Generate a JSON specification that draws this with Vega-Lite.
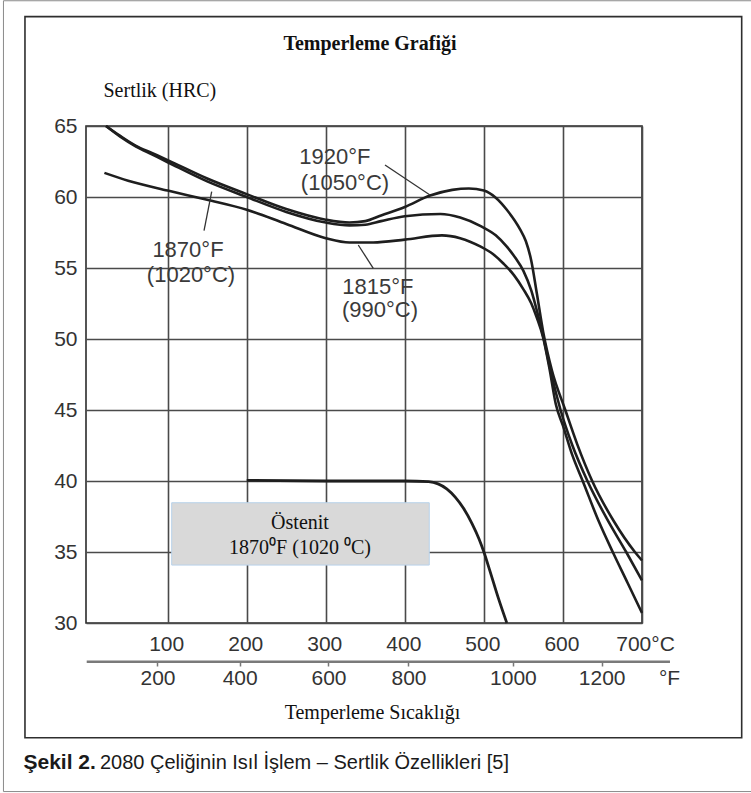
{
  "$schema": "https://vega.github.io/schema/vega-lite/v6.json",
  "width": 556,
  "height": 497,
  "autosize": {"type": "none"},
  "padding": {"left": 86, "top": 126, "right": 109, "bottom": 170},
  "background": "white",
  "config": {
    "view": {"stroke": "#2b2b2b", "strokeWidth": 1.6},
    "text": {"font": "Liberation Sans"}
  },
  "datasets": {
    "curves": [
      {"series": "1920°F", "C": 22, "HRC": 65.0},
      {"series": "1920°F", "C": 40, "HRC": 64.3},
      {"series": "1920°F", "C": 60, "HRC": 63.6},
      {"series": "1920°F", "C": 80, "HRC": 63.1},
      {"series": "1920°F", "C": 100, "HRC": 62.6},
      {"series": "1920°F", "C": 150, "HRC": 61.3},
      {"series": "1920°F", "C": 200, "HRC": 60.2},
      {"series": "1920°F", "C": 250, "HRC": 59.15},
      {"series": "1920°F", "C": 300, "HRC": 58.4},
      {"series": "1920°F", "C": 330, "HRC": 58.2},
      {"series": "1920°F", "C": 350, "HRC": 58.3},
      {"series": "1920°F", "C": 370, "HRC": 58.7},
      {"series": "1920°F", "C": 400, "HRC": 59.3},
      {"series": "1920°F", "C": 432, "HRC": 60.1},
      {"series": "1920°F", "C": 460, "HRC": 60.5},
      {"series": "1920°F", "C": 481, "HRC": 60.6},
      {"series": "1920°F", "C": 500, "HRC": 60.45},
      {"series": "1920°F", "C": 515, "HRC": 59.95},
      {"series": "1920°F", "C": 529, "HRC": 59.1},
      {"series": "1920°F", "C": 546, "HRC": 57.7},
      {"series": "1920°F", "C": 553, "HRC": 56.9},
      {"series": "1920°F", "C": 560, "HRC": 55.5},
      {"series": "1920°F", "C": 567, "HRC": 53.2},
      {"series": "1920°F", "C": 575, "HRC": 50.5},
      {"series": "1920°F", "C": 586, "HRC": 47.8},
      {"series": "1920°F", "C": 603, "HRC": 45.0},
      {"series": "1920°F", "C": 618, "HRC": 42.6},
      {"series": "1920°F", "C": 637, "HRC": 40.0},
      {"series": "1920°F", "C": 664, "HRC": 37.2},
      {"series": "1920°F", "C": 691, "HRC": 35.0},
      {"series": "1920°F", "C": 700, "HRC": 34.4},
      {"series": "1870°F", "C": 22, "HRC": 65.0},
      {"series": "1870°F", "C": 40, "HRC": 64.25},
      {"series": "1870°F", "C": 60, "HRC": 63.55},
      {"series": "1870°F", "C": 80, "HRC": 63.0},
      {"series": "1870°F", "C": 100, "HRC": 62.45},
      {"series": "1870°F", "C": 150, "HRC": 61.1},
      {"series": "1870°F", "C": 200, "HRC": 60.0},
      {"series": "1870°F", "C": 250, "HRC": 58.95},
      {"series": "1870°F", "C": 300, "HRC": 58.2},
      {"series": "1870°F", "C": 330, "HRC": 58.0},
      {"series": "1870°F", "C": 350, "HRC": 58.05},
      {"series": "1870°F", "C": 370, "HRC": 58.3},
      {"series": "1870°F", "C": 400, "HRC": 58.65},
      {"series": "1870°F", "C": 445, "HRC": 58.8},
      {"series": "1870°F", "C": 470, "HRC": 58.55},
      {"series": "1870°F", "C": 496, "HRC": 57.95},
      {"series": "1870°F", "C": 515, "HRC": 57.3},
      {"series": "1870°F", "C": 529, "HRC": 56.5},
      {"series": "1870°F", "C": 540, "HRC": 55.7},
      {"series": "1870°F", "C": 550, "HRC": 54.8},
      {"series": "1870°F", "C": 560, "HRC": 53.4},
      {"series": "1870°F", "C": 567, "HRC": 52.0},
      {"series": "1870°F", "C": 575, "HRC": 50.2},
      {"series": "1870°F", "C": 585, "HRC": 47.6},
      {"series": "1870°F", "C": 597, "HRC": 45.0},
      {"series": "1870°F", "C": 612, "HRC": 42.5},
      {"series": "1870°F", "C": 631, "HRC": 40.0},
      {"series": "1870°F", "C": 655, "HRC": 37.4},
      {"series": "1870°F", "C": 680, "HRC": 35.0},
      {"series": "1870°F", "C": 700, "HRC": 33.0},
      {"series": "1815°F", "C": 20, "HRC": 61.7},
      {"series": "1815°F", "C": 50, "HRC": 61.15},
      {"series": "1815°F", "C": 100, "HRC": 60.45},
      {"series": "1815°F", "C": 150, "HRC": 59.8},
      {"series": "1815°F", "C": 200, "HRC": 59.1},
      {"series": "1815°F", "C": 250, "HRC": 58.1},
      {"series": "1815°F", "C": 300, "HRC": 57.1},
      {"series": "1815°F", "C": 330, "HRC": 56.8},
      {"series": "1815°F", "C": 360, "HRC": 56.8},
      {"series": "1815°F", "C": 400, "HRC": 57.0},
      {"series": "1815°F", "C": 447, "HRC": 57.3},
      {"series": "1815°F", "C": 470, "HRC": 57.1},
      {"series": "1815°F", "C": 496, "HRC": 56.5},
      {"series": "1815°F", "C": 511, "HRC": 56.0},
      {"series": "1815°F", "C": 525, "HRC": 55.3},
      {"series": "1815°F", "C": 538, "HRC": 54.5},
      {"series": "1815°F", "C": 550, "HRC": 53.5},
      {"series": "1815°F", "C": 560, "HRC": 52.5},
      {"series": "1815°F", "C": 567, "HRC": 51.5},
      {"series": "1815°F", "C": 575, "HRC": 50.1},
      {"series": "1815°F", "C": 583, "HRC": 47.9},
      {"series": "1815°F", "C": 591, "HRC": 45.4},
      {"series": "1815°F", "C": 600, "HRC": 43.9},
      {"series": "1815°F", "C": 612, "HRC": 41.8},
      {"series": "1815°F", "C": 625, "HRC": 40.0},
      {"series": "1815°F", "C": 645, "HRC": 37.2},
      {"series": "1815°F", "C": 663, "HRC": 35.0},
      {"series": "1815°F", "C": 682, "HRC": 32.8},
      {"series": "1815°F", "C": 700, "HRC": 30.7}
    ],
    "austenite": [
      {"C": 200, "HRC": 40.05},
      {"C": 300, "HRC": 40.0},
      {"C": 400, "HRC": 40.0},
      {"C": 430, "HRC": 39.95},
      {"C": 442, "HRC": 39.8},
      {"C": 453, "HRC": 39.45},
      {"C": 464, "HRC": 38.85},
      {"C": 474, "HRC": 38.1},
      {"C": 485, "HRC": 37.0},
      {"C": 494, "HRC": 35.9},
      {"C": 500, "HRC": 35.0},
      {"C": 508, "HRC": 33.6},
      {"C": 518, "HRC": 31.8},
      {"C": 529, "HRC": 30.0}
    ],
    "leaders": [
      {"C1": 374.9, "H1": 62.25, "C2": 431.8, "H2": 60.14},
      {"C1": 146.0, "H1": 57.63, "C2": 155.7, "H2": 60.37},
      {"C1": 360.1, "H1": 54.98, "C2": 341.1, "H2": 56.62}
    ],
    "labels": [
      {"text": "1920°F", "C": 311.6, "HRC": 62.84},
      {"text": "(1050°C)", "C": 324.3, "HRC": 60.96},
      {"text": "1870°F", "C": 125.7, "HRC": 56.27},
      {"text": "(1020°C)", "C": 129.5, "HRC": 54.51},
      {"text": "1815°F", "C": 366.0, "HRC": 53.68},
      {"text": "(990°C)", "C": 368.6, "HRC": 52.04}
    ],
    "boxtext": [
      {"text": "Östenit", "C": 267.4, "HRC": 37.06},
      {"text": "1870⁰F (1020 ⁰C)", "C": 267.4, "HRC": 35.26}
    ]
  },
  "resolve": {"axis": {"x": "independent", "y": "independent"}},
  "layer": [
    {
      "data": {"values": [{}]},
      "mark": {"type": "rect", "fill": "transparent", "stroke": "#8a8a8a", "strokeWidth": 1, "clip": false},
      "encoding": {
        "x": {"datum": -107.7, "type": "quantitative", "scale": {"domain": [-3.3, 700], "nice": false}, "axis": null},
        "x2": {"datum": 841},
        "y": {"datum": 73.82, "type": "quantitative", "scale": {"domain": [30, 65], "nice": false, "zero": false}, "axis": null},
        "y2": {"datum": 18.13}
      }
    },
    {
      "data": {"values": [{}]},
      "mark": {"type": "rect", "fill": "transparent", "stroke": "#2e2e2e", "strokeWidth": 1.6, "clip": false},
      "encoding": {
        "x": {"datum": -80.5, "type": "quantitative", "scale": {"domain": [-3.3, 700], "nice": false}, "axis": null},
        "x2": {"datum": 826.1},
        "y": {"datum": 72.7, "type": "quantitative", "scale": {"domain": [30, 65], "nice": false, "zero": false}, "axis": null},
        "y2": {"datum": 21.92}
      }
    },
    {
      "data": {"name": "curves"},
      "mark": {"type": "line", "interpolate": "monotone", "color": "#1e1e1e", "strokeWidth": 2.6},
      "encoding": {
        "x": {
          "field": "C", "type": "quantitative",
          "scale": {"domain": [-3.3, 700], "nice": false},
          "axis": {
            "orient": "bottom",
            "values": [100, 200, 300, 400, 500, 600, 700],
            "labelExpr": "datum.value == 700 ? '700°C' : datum.label",
            "grid": true, "gridColor": "#4a4a4a", "gridWidth": 1.6,
            "domain": false, "ticks": false,
            "labelPadding": 10, "labelFlush": false, "labelOverlap": false,
            "labelFont": "Liberation Sans", "labelFontSize": 21, "labelColor": "#333333",
            "labelOffset": {"condition": {"test": "datum.value == 700", "value": 3}, "value": -1.5},
            "title": null
          }
        },
        "y": {
          "field": "HRC", "type": "quantitative",
          "scale": {"domain": [30, 65], "nice": false, "zero": false},
          "axis": {
            "values": [30, 35, 40, 45, 50, 55, 60, 65],
            "grid": true, "gridColor": "#4a4a4a", "gridWidth": 1.6,
            "domain": false, "ticks": false,
            "labelPadding": 9,
            "labelFont": "Liberation Sans", "labelFontSize": 21, "labelColor": "#333333",
            "title": "Sertlik (HRC)",
            "titleAngle": 0, "titleX": 17, "titleY": -36,
            "titleAlign": "left", "titleBaseline": "middle",
            "titleFont": "Liberation Serif", "titleFontSize": 20, "titleFontWeight": "normal", "titleColor": "#111111"
          }
        },
        "detail": {"field": "series"}
      }
    },
    {
      "data": {"name": "austenite"},
      "mark": {"type": "line", "interpolate": "monotone", "color": "#1e1e1e", "strokeWidth": 2.8},
      "encoding": {
        "x": {"field": "C", "type": "quantitative", "scale": {"domain": [-3.3, 700], "nice": false}, "axis": null},
        "y": {"field": "HRC", "type": "quantitative", "scale": {"domain": [30, 65], "nice": false, "zero": false}, "axis": null}
      }
    },
    {
      "data": {"values": [{}]},
      "mark": {"type": "rule", "color": "#7a7a7a", "strokeWidth": 2.4, "clip": false},
      "encoding": {
        "x": {
          "datum": -2.4, "type": "quantitative",
          "scale": {"domain": [-3.3, 700], "nice": false},
          "axis": {
            "orient": "bottom", "offset": 39,
            "values": [87.1, 191.1, 303.4, 404.6, 536.7, 649.0, 700],
            "labelExpr": "datum.value < 100 ? '200' : datum.value < 200 ? '400' : datum.value < 350 ? '600' : datum.value < 450 ? '800' : datum.value < 600 ? '1000' : datum.value < 680 ? '1200' : '°F'",
            "domain": false, "grid": false,
            "ticks": true, "tickSize": 4, "tickWidth": 1.5,
            "tickColor": {"condition": {"test": "datum.value == 700", "value": "transparent"}, "value": "#777777"},
            "labelPadding": 1, "labelFlush": false, "labelOverlap": false,
            "labelOffset": {"condition": {"test": "datum.value == 700", "value": 27}, "value": 0},
            "labelFont": "Liberation Sans", "labelFontSize": 21, "labelColor": "#333333",
            "title": "Temperleme Sıcaklığı",
            "titleFont": "Liberation Serif", "titleFontSize": 20, "titleFontWeight": "normal", "titleColor": "#111111",
            "titleX": 286, "titleY": 50, "titleAlign": "center", "titleBaseline": "middle"
          }
        },
        "x2": {"datum": 735.4},
        "y": {"datum": 27.27, "type": "quantitative", "scale": {"domain": [30, 65], "nice": false, "zero": false}, "axis": null}
      }
    },
    {
      "data": {"values": [{}]},
      "mark": {"type": "rect", "fill": "#d9d9d9", "stroke": "#b8d2ea", "strokeWidth": 1},
      "encoding": {
        "x": {"datum": 105.1, "type": "quantitative", "scale": {"domain": [-3.3, 700], "nice": false}, "axis": null},
        "x2": {"datum": 430.9},
        "y": {"datum": 38.47, "type": "quantitative", "scale": {"domain": [30, 65], "nice": false, "zero": false}, "axis": null},
        "y2": {"datum": 34.08}
      }
    },
    {
      "data": {"name": "leaders"},
      "mark": {"type": "rule", "color": "#333333", "strokeWidth": 1.3},
      "encoding": {
        "x": {"field": "C1", "type": "quantitative", "scale": {"domain": [-3.3, 700], "nice": false}, "axis": null},
        "x2": {"field": "C2"},
        "y": {"field": "H1", "type": "quantitative", "scale": {"domain": [30, 65], "nice": false, "zero": false}, "axis": null},
        "y2": {"field": "H2"}
      }
    },
    {
      "data": {"name": "labels"},
      "mark": {"type": "text", "font": "Liberation Sans", "fontSize": 22, "color": "#3a3a3a", "align": "center", "baseline": "middle"},
      "encoding": {
        "x": {"field": "C", "type": "quantitative", "scale": {"domain": [-3.3, 700], "nice": false}, "axis": null},
        "y": {"field": "HRC", "type": "quantitative", "scale": {"domain": [30, 65], "nice": false, "zero": false}, "axis": null},
        "text": {"field": "text"}
      }
    },
    {
      "data": {"name": "boxtext"},
      "mark": {"type": "text", "font": "Liberation Serif", "fontSize": 20, "color": "#111111", "align": "center", "baseline": "middle"},
      "encoding": {
        "x": {"field": "C", "type": "quantitative", "scale": {"domain": [-3.3, 700], "nice": false}, "axis": null},
        "y": {"field": "HRC", "type": "quantitative", "scale": {"domain": [30, 65], "nice": false, "zero": false}, "axis": null},
        "text": {"field": "text"}
      }
    },
    {
      "data": {"values": [{}]},
      "mark": {"type": "text", "text": "Temperleme Grafiği", "font": "Liberation Serif", "fontWeight": "bold", "fontSize": 20, "color": "#111111", "align": "center", "baseline": "middle", "clip": false},
      "encoding": {
        "x": {"datum": 355.9, "type": "quantitative", "scale": {"domain": [-3.3, 700], "nice": false}, "axis": null},
        "y": {"datum": 70.77, "type": "quantitative", "scale": {"domain": [30, 65], "nice": false, "zero": false}, "axis": null}
      }
    },
    {
      "data": {"values": [{}]},
      "mark": {"type": "text", "text": "Şekil 2.", "font": "Liberation Sans", "fontWeight": "bold", "fontSize": 21, "color": "#1a1a1a", "align": "left", "baseline": "middle", "clip": false},
      "encoding": {
        "x": {"datum": -82.4, "type": "quantitative", "scale": {"domain": [-3.3, 700], "nice": false}, "axis": null},
        "y": {"datum": 20.14, "type": "quantitative", "scale": {"domain": [30, 65], "nice": false, "zero": false}, "axis": null}
      }
    },
    {
      "data": {"values": [{}]},
      "mark": {"type": "text", "text": "2080 Çeliğinin Isıl İşlem – Sertlik Özellikleri [5]", "font": "Liberation Sans", "fontSize": 20, "color": "#1a1a1a", "align": "left", "baseline": "middle", "clip": false},
      "encoding": {
        "x": {"datum": 14.4, "type": "quantitative", "scale": {"domain": [-3.3, 700], "nice": false}, "axis": null},
        "y": {"datum": 20.14, "type": "quantitative", "scale": {"domain": [30, 65], "nice": false, "zero": false}, "axis": null}
      }
    }
  ]
}
